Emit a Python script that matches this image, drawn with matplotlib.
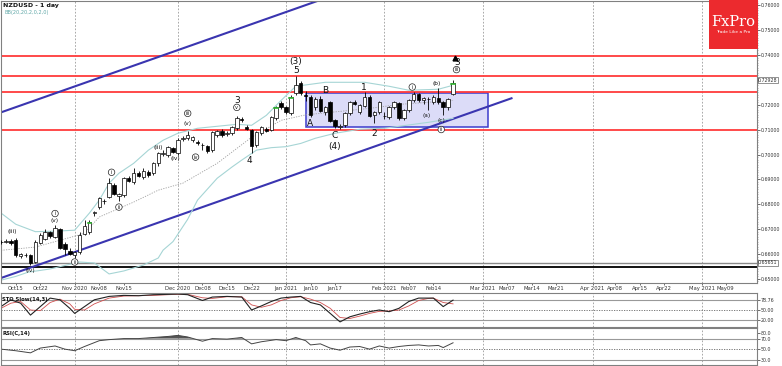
import matplotlib
matplotlib.use('Agg')
import matplotlib.pyplot as plt
from matplotlib.patches import Rectangle
import numpy as np

# ---------------- data ----------------
# daily bars, index 0 = 2020-10-12 ... index 92 = 2021-02-19 (trading days)
opens = [0.6648,0.6650,0.6652,0.6656,0.6592,0.6598,0.6596,0.6570,0.6645,0.6660,
         0.6688,0.6670,0.6700,0.6640,0.6612,0.6598,0.6610,0.6680,0.6688,0.6765,
         0.6790,0.6812,0.6829,0.6877,0.6833,0.6837,0.6905,0.6889,0.6925,0.6910,
         0.6932,0.6925,0.6965,0.7002,0.7000,0.7025,0.7005,0.7062,0.7065,0.7058,
         0.7052,0.7040,0.7034,0.7018,0.7078,0.7094,0.7082,0.7086,0.7106,0.7142,
         0.7110,0.7098,0.7038,0.7086,0.7102,0.7098,0.7146,0.7206,0.7190,0.7166,
         0.7247,0.7287,0.7240,0.7231,0.7190,0.7223,0.7170,0.7210,0.7138,0.7112,
         0.7118,0.7166,0.7212,0.7170,0.7194,0.7231,0.7158,0.7170,0.7156,0.7150,
         0.7190,0.7206,0.7146,0.7178,0.7218,0.7243,0.7218,0.7225,0.7210,0.7227,
         0.7210,0.7190,0.7245]
highs = [0.6656,0.6660,0.6662,0.6664,0.6604,0.6606,0.6600,0.6655,0.6685,0.6700,
         0.6694,0.6715,0.6705,0.6648,0.6625,0.6612,0.6688,0.6735,0.6738,0.6775,
         0.6830,0.6820,0.6905,0.6885,0.6845,0.6910,0.6915,0.6945,0.6935,0.6945,
         0.6940,0.6970,0.7010,0.7020,0.7035,0.7032,0.7065,0.7075,0.7095,0.7075,
         0.7060,0.7048,0.7040,0.7095,0.7100,0.7105,0.7095,0.7115,0.7155,0.7150,
         0.7118,0.7105,0.7095,0.7115,0.7110,0.7155,0.7195,0.7215,0.7195,0.7240,
         0.7315,0.7295,0.7255,0.7240,0.7230,0.7235,0.7195,0.7215,0.7142,0.7125,
         0.7172,0.7215,0.7220,0.7202,0.7250,0.7238,0.7175,0.7215,0.7170,0.7195,
         0.7215,0.7212,0.7182,0.7222,0.7250,0.7248,0.7232,0.7232,0.7238,0.7267,
         0.7215,0.7228,0.7300]
lows  = [0.6640,0.6644,0.6638,0.6590,0.6585,0.6590,0.6555,0.6565,0.6640,0.6655,
         0.6666,0.6665,0.6620,0.6596,0.6595,0.6585,0.6600,0.6676,0.6680,0.6755,
         0.6780,0.6800,0.6825,0.6837,0.6815,0.6830,0.6890,0.6880,0.6910,0.6900,
         0.6912,0.6920,0.6955,0.6995,0.6990,0.7005,0.6998,0.7055,0.7060,0.7050,
         0.7040,0.7020,0.7005,0.7012,0.7070,0.7070,0.7075,0.7080,0.7100,0.7130,
         0.7100,0.7006,0.7030,0.7080,0.7090,0.7095,0.7140,0.7185,0.7165,0.7160,
         0.7240,0.7240,0.7215,0.7150,0.7180,0.7170,0.7160,0.7130,0.7108,0.7105,
         0.7112,0.7160,0.7198,0.7165,0.7190,0.7150,0.7126,0.7165,0.7145,0.7145,
         0.7185,0.7140,0.7140,0.7172,0.7212,0.7210,0.7205,0.7178,0.7205,0.7205,
         0.7158,0.7180,0.7238]
closes = [0.6650,0.6652,0.6645,0.6596,0.6600,0.6596,0.6565,0.6650,0.6675,0.6690,
          0.6672,0.6705,0.6625,0.6622,0.6600,0.6610,0.6678,0.6712,0.6730,0.6770,
          0.6825,0.6815,0.6885,0.6841,0.6841,0.6905,0.6893,0.6925,0.6915,0.6935,
          0.6918,0.6965,0.7005,0.7005,0.7030,0.7010,0.7058,0.7068,0.7078,0.7070,
          0.7048,0.7038,0.7014,0.7090,0.7094,0.7078,0.7086,0.7110,0.7146,0.7140,
          0.7104,0.7034,0.7090,0.7110,0.7094,0.7150,0.7190,0.7190,0.7170,0.7231,
          0.7279,0.7247,0.7235,0.7158,0.7223,0.7175,0.7190,0.7134,0.7114,0.7116,
          0.7166,0.7210,0.7202,0.7198,0.7231,0.7154,0.7170,0.7210,0.7154,0.7190,
          0.7210,0.7146,0.7178,0.7218,0.7243,0.7218,0.7227,0.7222,0.7231,0.7210,
          0.7190,0.7223,0.7290]

bb_up_x = [0, 3, 7, 11, 15, 18, 20, 22, 24, 27, 30, 33, 36, 40, 44, 48, 51, 54, 57, 60, 66, 74, 79, 83, 89, 92]
bb_up   = [0.6765,0.6720,0.6690,0.6692,0.6696,0.6765,0.6817,0.6885,0.6925,0.6965,0.7018,0.7058,
           0.7086,0.7106,0.7114,0.7122,0.7118,0.7158,0.7218,0.7275,0.7291,0.7291,0.7275,0.7259,0.7263,0.7279]
bb_mid_x = [0, 7, 11, 15, 17, 20, 27, 32, 37, 44, 51, 57, 62, 68, 75, 81, 92]
bb_mid   = [0.6615,0.6628,0.6650,0.6672,0.6684,0.6749,0.6809,0.6857,0.6885,0.6965,0.7070,0.7138,
            0.7160,0.7172,0.7186,0.7202,0.7218]
bb_lo_x = [0, 3, 5.5, 10, 16, 19, 22, 25, 29, 32, 33, 35, 38, 40, 44, 47, 49, 52, 55, 58, 61, 64, 68, 73, 78, 87, 92]
bb_lo   = [0.6495,0.6510,0.6527,0.6540,0.6568,0.6564,0.6520,0.6532,0.6556,0.6584,0.6616,0.6650,
           0.6740,0.6817,0.6905,0.6950,0.6978,0.7018,0.7028,0.7032,0.7045,0.7066,0.7086,0.7102,
           0.7106,0.7130,0.7146]

# Stochastic slow (14,3) and RSI(14), sampled
sto_x = [0, 2, 4, 6, 8, 10, 12, 14, 15, 17, 19, 22, 25, 28, 31, 34, 36, 38, 41, 43, 46, 49, 51, 53,
         55, 57, 59, 61, 63, 65, 67, 69, 71, 73, 75, 77, 79, 81, 83, 85, 87, 88, 90, 92]
sto_k = [60, 80, 70, 35, 60, 85, 80, 55, 40, 60, 80, 90, 93, 92, 95, 96, 97, 95, 78, 88, 90, 88, 50, 62,
         75, 85, 88, 90, 72, 65, 40, 15, 30, 38, 45, 50, 45, 55, 75, 85, 85, 85, 60, 79]
sto_d = [55, 70, 75, 50, 48, 72, 82, 68, 52, 50, 68, 85, 91, 92, 93, 95, 96, 96, 86, 84, 89, 89, 65, 58,
         65, 78, 86, 89, 82, 72, 55, 28, 25, 32, 40, 46, 47, 50, 62, 78, 84, 85, 72, 68]
rsi_x = [0, 3, 6, 8, 11, 13, 15, 17, 20, 22, 25, 28, 31, 34, 36, 38, 41, 43, 46, 49, 51, 53, 56, 58,
         60, 62, 63, 65, 67, 69, 71, 73, 75, 77, 79, 81, 83, 85, 87, 89, 90, 92]
rsi   = [50, 47, 43, 52, 56, 50, 47, 55, 66, 68, 70, 70, 72, 74, 76, 73, 65, 70, 69, 72, 60, 64, 68, 66,
         72, 66, 58, 60, 52, 48, 54, 55, 50, 56, 52, 55, 57, 58, 56, 57, 53, 62]

red_levels = [0.7395, 0.7315, 0.7250, 0.7100]
support_gray = 0.65651
support_black = 0.6548
price_ticks = [0.65, 0.66, 0.67, 0.68, 0.69, 0.70, 0.71, 0.72, 0.73, 0.74, 0.75, 0.76]
date_tick_pos = [3, 8, 15, 20, 25, 36, 41, 46, 51, 58, 63, 68, 78, 83, 88, 98, 103, 108, 113,
                 120.4, 125, 130, 135, 142.7, 147.5]
date_tick_lab = ['Oct15', 'Oct22', 'Nov 2020', 'Nov08', 'Nov15', 'Dec 2020', 'Dec08', 'Dec15', 'Dec22',
                 'Jan 2021', 'Jan10', 'Jan17', 'Feb 2021', 'Feb07', 'Feb14', 'Mar 2021', 'Mar07',
                 'Mar14', 'Mar21', 'Apr 2021', 'Apr08', 'Apr15', 'Apr22', 'May 2021', 'May09']
month_pos = [15, 36, 58, 78, 98, 120.4, 142.7]

# ---------------- layout ----------------
W, H = 782, 366
fig = plt.figure(figsize=(W / 100, H / 100), dpi=100)

def rect(x0, y0, x1, y1):
    return [x0 / W, 1 - y1 / H, (x1 - x0) / W, (y1 - y0) / H]

XR = 757 / 4.92
ax = fig.add_axes(rect(0.5, 0.5, 757, 283))
ax_s = fig.add_axes(rect(0.5, 293, 757, 327))
ax_r = fig.add_axes(rect(0.5, 328, 757, 365))

GRID = '#9a9a9a'
LBL = 3.4
for a in (ax, ax_s, ax_r):
    a.set_xlim(-0.1, XR)
    for s in a.spines.values():
        s.set_color('#808080')
        s.set_linewidth(0.8)
    for m in month_pos:
        a.axvline(m, color=GRID, lw=0.6, ls=(0, (2, 2)), zorder=0)
    a.yaxis.tick_right()
    a.tick_params(axis='y', labelsize=LBL, length=2, width=0.5, pad=0.8, colors='#333333')

# ---------------- main panel ----------------
ymin, ymax = 0.76 - 278 / 2490, 0.76 + 5 / 2490
ax.set_ylim(ymin, ymax)
ax.set_yticks(price_ticks)
ax.set_yticklabels(['' if abs(v - 0.73) < 1e-9 else '%.5f' % v for v in price_ticks])
ax.set_yticks(np.arange(0.649, 0.762, 0.001), minor=True)
ax.tick_params(axis='y', which='minor', length=1, width=0.4, colors='#777777')
ax.set_xticks(date_tick_pos)
ax.set_xticklabels(date_tick_lab)
ax.tick_params(axis='x', labelsize=3.8, length=1.5, width=0.5, pad=1, colors='#333333')

# support lines
ax.axhline(support_gray, color='#8a8a8a', lw=1.0, zorder=1)
ax.axhline(support_black, color='#111111', lw=1.4, zorder=1)

# rectangle (range)
ax.add_patch(Rectangle((62.0, 0.7111), 37.2, 0.7248 - 0.7111, facecolor='#dcdcf8',
                       edgecolor='#3c3ccc', lw=1.1, zorder=1))

# red levels
for lv in red_levels:
    ax.axhline(lv, color='#ff3b3b', lw=1.3, zorder=2)

# blue channel
ax.plot([0, 103.9], [0.65036, 0.65036 + 0.000696 * 103.9], color='#3a35b0', lw=1.5, zorder=2)
ax.plot([0, 80], [0.7170, 0.7170 + 0.000696 * 80], color='#3a35b0', lw=1.5, zorder=2)

# Bollinger
ax.plot(bb_up_x, bb_up, color='#a6d5d5', lw=0.8, zorder=2)
ax.plot(bb_lo_x, bb_lo, color='#a6d5d5', lw=0.8, zorder=2)
ax.plot(bb_mid_x, bb_mid, color='#a0a0a0', lw=0.6, ls=(0, (1.5, 1.5)), zorder=2)

# candles
xs = np.arange(len(opens))
o = np.array(opens); h = np.array(highs); l = np.array(lows); c = np.array(closes)
ax.vlines(xs, l, h, color='black', lw=0.6, zorder=3)
up = c >= o
bottoms = np.minimum(o, c)
heights = np.maximum(np.abs(c - o), 0.00008)
ax.bar(xs[up], heights[up], bottom=bottoms[up], width=0.7, facecolor='white',
       edgecolor='black', lw=0.5, zorder=4)
ax.bar(xs[~up], heights[~up], bottom=bottoms[~up], width=0.7, facecolor='black',
       edgecolor='black', lw=0.5, zorder=4)

# green signal ticks
for gx in [18, 56, 59, 92]:
    ax.plot([gx - 0.35, gx + 0.35], [closes[gx] - 0.0004] * 2, color='#2fb52f', lw=1.2, zorder=5)

# wave labels
big = dict(fontsize=6.5, color='#111111', ha='center', va='center', zorder=6)
small = dict(fontsize=4.2, color='#111111', ha='center', va='center', zorder=6)
circ = dict(fontsize=3.6, color='#111111', ha='center', va='center', zorder=6,
            bbox=dict(boxstyle='circle,pad=0.15', fc='white', ec='#222222', lw=0.5))
for t, x, y in [('(3)', 60, 0.7374), ('5', 60, 0.7340), ('3', 48, 0.7218), ('4', 50.6, 0.6978),
                ('A', 62.8, 0.7125), ('B', 65.9, 0.7256), ('C', 67.9, 0.7078), ('(4)', 67.9, 0.7031),
                ('1', 73.9, 0.7270), ('2', 75.9, 0.7087), ('3', 92.8, 0.7370)]:
    ax.text(x, y, t, **big)
for t, x, y in [('(iii)', 2.2, 0.6692), ('(iv)', 6, 0.6535), ('(v)', 11, 0.6735),
                ('(iii)', 32, 0.7030), ('(iv)', 35.5, 0.6986), ('(v)', 38, 0.7126),
                ('(a)', 86.7, 0.7156), ('(b)', 88.6, 0.7285), ('(c)', 89.6, 0.7138)]:
    ax.text(x, y, t, **small)
for t, x, y in [('i', 11, 0.6763), ('ii', 15, 0.6568), ('i', 22.5, 0.6929), ('ii', 24, 0.6789),
                ('iii', 38, 0.7166), ('iv', 39.6, 0.6990), ('v', 48, 0.7190), ('i', 83.7, 0.7272),
                ('ii', 89.6, 0.7101), ('iii', 92.7, 0.7342)]:
    ax.text(x, y, t, **circ)
ax.plot([92.4], [0.7390], marker='^', color='black', ms=3.5, zorder=6)

# price boxes on axis
for val, txt in [(0.7299, '0.72928'), (support_gray, '0.65651')]:
    ax.text(1.0015, (val - ymin) / (ymax - ymin), txt, transform=ax.transAxes, fontsize=LBL,
            ha='left', va='center', color='#333333', zorder=10,
            bbox=dict(boxstyle='square,pad=0.12', fc='white', ec='#666666', lw=0.5))

# titles
ax.text(3 / 757, 1 - 5 / 283, 'NZDUSD - 1 day', transform=ax.transAxes, fontsize=4.5,
        fontweight='bold', ha='left', va='center', color='#111111')
ax.text(4 / 757, 1 - 12 / 283, 'BB(20,20,2,0,2,0)', transform=ax.transAxes, fontsize=3.6,
        ha='left', va='center', color='#5fa7a7')

# FxPro badge
logo = fig.add_axes(rect(709, 0, 757.5, 49))
logo.set_axis_off()
logo.add_patch(Rectangle((0, 0), 1, 1, transform=logo.transAxes, facecolor='#ec2a2e',
                         edgecolor='none'))
logo.text(0.5, 0.55, 'FxPro', transform=logo.transAxes, fontsize=10.5, family='DejaVu Serif',
          color='white', ha='center', va='center')
logo.text(0.5, 0.34, 'Trade Like a Pro', transform=logo.transAxes, fontsize=3.2,
          color='white', ha='center', va='center')

# ---------------- stochastic ----------------
ax_s.set_ylim(0, 100)
ax_s.set_xticks([])
ax_s.axhline(80, color='#999999', lw=0.8)
ax_s.axhline(20, color='#999999', lw=0.8)
ax_s.axhline(50, color='#666666', lw=0.6, ls=(0, (1.5, 1.5)))
ax_s.plot(sto_x, sto_d, color='#d05050', lw=0.6)
ax_s.plot(sto_x, sto_k, color='#222222', lw=0.8)
ax_s.set_yticks([20, 50, 80])
ax_s.set_yticklabels(['20.00', '50.00', '78.76'])
ax_s.text(2 / 757, 0.82, 'STO Slow(14,3)', transform=ax_s.transAxes, fontsize=3.8,
          fontweight='bold', ha='left', va='center', color='#111111')

# ---------------- RSI ----------------
ax_r.set_ylim(20, 90)
ax_r.set_xticks([])
ax_r.axhline(70, color='#999999', lw=0.8)
ax_r.axhline(30, color='#999999', lw=0.8)
ax_r.axhline(50, color='#666666', lw=0.6, ls=(0, (1.5, 1.5)))
rx = np.array(rsi_x, float); rv = np.array(rsi, float)
ax_r.fill_between(rx, 70, rv, where=rv >= 70, interpolate=True, color='#555555', lw=0)
ax_r.plot(rx, rv, color='#444444', lw=0.7)
ax_r.set_yticks([30, 50, 70, 80])
ax_r.set_yticklabels(['30.0', '50.0', '70.0', '80.0'])
ax_r.text(2 / 757, 0.85, 'RSI(C,14)', transform=ax_r.transAxes, fontsize=3.8,
          fontweight='bold', ha='left', va='center', color='#111111')

fig.savefig('out.png', dpi=100)
